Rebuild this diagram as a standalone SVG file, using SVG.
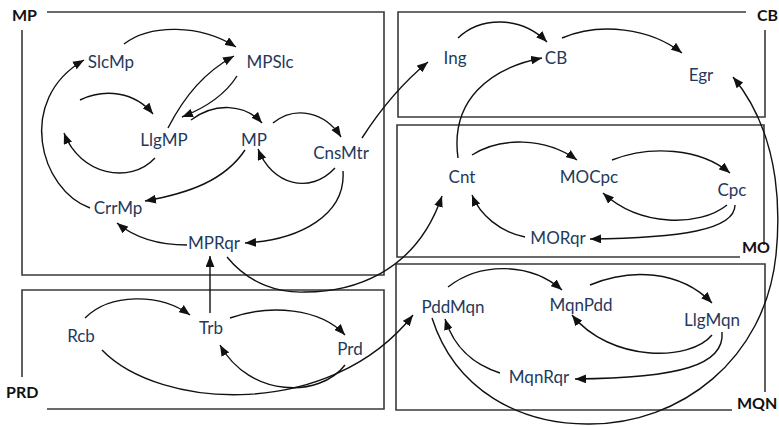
<svg xmlns="http://www.w3.org/2000/svg" width="779" height="426" viewBox="0 0 779 426">
  <style>
    .box { fill: none; stroke: #3a3a3a; stroke-width: 1.6; }
    .grp { font-family: Lato, "Open Sans", sans-serif; font-weight: bold; font-size: 16px; fill: #111; }
    .lbl { font-family: Lato, "Open Sans", sans-serif; font-size: 17px; fill: #1f3a5c; text-anchor: middle; }
    .edge { fill: none; stroke: #111; stroke-width: 1.4; marker-end: url(#ah); }
  </style>
  <defs>
    <marker id="ah" viewBox="0 0 10 8" refX="10" refY="4" markerWidth="11" markerHeight="9" markerUnits="userSpaceOnUse" orient="auto">
      <path d="M0,0 L10,4 L0,8 Z" fill="#111"/>
    </marker>
  </defs>

  <rect width="779" height="426" fill="#fff"/>

  <!-- group frames -->
  <g id="frames">
    <path class="box" d="M47 12 H384 V275 H22 V30"/>
    <path class="box" d="M22 377 V290 H384 V409 H47"/>
    <path class="box" d="M746 12 H398 V117 H765 V30"/>
    <path class="box" d="M764 245 V125 H397 V257 H740"/>
    <path class="box" d="M765 392 V264 H396 V410 H732"/>
    <text class="grp" x="12" y="21">MP</text>
    <text class="grp" x="6" y="398">PRD</text>
    <text class="grp" x="757" y="21">CB</text>
    <text class="grp" x="742" y="253">MO</text>
    <text class="grp" x="737" y="409">MQN</text>
  </g>

  <!-- connectors -->
  <g id="connectors">
    <!-- MP -->
    <path class="edge" d="M124 44 C150 24, 200 24, 236 47"/>
    <path class="edge" d="M90 208 C40 190, 15 100, 84 60"/>
    <path class="edge" d="M80 100 C105 88, 135 92, 153 114"/>
    <path class="edge" d="M155 158 C130 185, 80 175, 64 133"/>
    <path class="edge" d="M168 128 C185 95, 205 72, 234 56"/>
    <path class="edge" d="M237 76 C225 95, 205 108, 182 117"/>
    <path class="edge" d="M191 120 C215 102, 245 104, 262 123"/>
    <path class="edge" d="M273 123 C295 105, 325 112, 341 137"/>
    <path class="edge" d="M362 138 C380 110, 400 85, 428 62"/>
    <path class="edge" d="M245 150 C225 180, 190 193, 145 201"/>
    <path class="edge" d="M335 168 C310 195, 272 185, 258 149"/>
    <path class="edge" d="M343 171 C346 215, 300 240, 245 243"/>
    <path class="edge" d="M187 245 C160 245, 135 238, 117 223"/>
    <path class="edge" d="M210 313 V256"/>
    <path class="edge" d="M227 257 C250 285, 280 293, 305 292 C350 292, 415 275, 442 196"/>
    <!-- PRD -->
    <path class="edge" d="M85 318 C110 293, 160 293, 190 315"/>
    <path class="edge" d="M230 318 C270 304, 320 308, 345 335"/>
    <path class="edge" d="M345 365 C320 398, 250 398, 220 345"/>
    <path class="edge" d="M102 350 C160 410, 330 420, 413 315"/>
    <!-- CB -->
    <path class="edge" d="M458 38 C480 17, 520 15, 547 42"/>
    <path class="edge" d="M562 38 C600 22, 650 28, 682 53"/>
    <path class="edge" d="M458 158 C450 100, 490 68, 542 58"/>
    <!-- MO -->
    <path class="edge" d="M472 155 C500 137, 545 137, 577 160"/>
    <path class="edge" d="M612 160 C650 145, 700 148, 730 173"/>
    <path class="edge" d="M727 205 C700 227, 640 227, 603 193"/>
    <path class="edge" d="M735 205 C735 230, 680 238, 590 239"/>
    <path class="edge" d="M525 237 C500 232, 480 215, 472 195"/>
    <!-- MQN -->
    <path class="edge" d="M448 287 C480 262, 530 262, 562 290"/>
    <path class="edge" d="M590 285 C630 268, 680 270, 712 303"/>
    <path class="edge" d="M712 335 C690 362, 610 362, 572 315"/>
    <path class="edge" d="M722 332 C725 365, 680 378, 575 379"/>
    <path class="edge" d="M500 373 C475 365, 455 350, 445 319"/>
    <path class="edge" d="M432 318 C455 390, 520 425, 590 424 C680 424, 765 360, 776 255 C779 225, 785 140, 733 77"/>
  </g>

  <!-- nodes -->
  <g id="SlcMp"><text class="lbl" x="111" y="68">SlcMp</text></g>
  <g id="MPSlc"><text class="lbl" x="270" y="68">MPSlc</text></g>
  <g id="LlgMP"><text class="lbl" x="164" y="146">LlgMP</text></g>
  <g id="MP"><text class="lbl" x="254" y="146">MP</text></g>
  <g id="CnsMtr"><text class="lbl" x="341" y="159">CnsMtr</text></g>
  <g id="CrrMp"><text class="lbl" x="118" y="214">CrrMp</text></g>
  <g id="MPRqr"><text class="lbl" x="214" y="249">MPRqr</text></g>
  <g id="Rcb"><text class="lbl" x="81" y="342">Rcb</text></g>
  <g id="Trb"><text class="lbl" x="211" y="334">Trb</text></g>
  <g id="Prd"><text class="lbl" x="350" y="355">Prd</text></g>
  <g id="Ing"><text class="lbl" x="455" y="64">Ing</text></g>
  <g id="CB"><text class="lbl" x="556" y="64">CB</text></g>
  <g id="Egr"><text class="lbl" x="701" y="81">Egr</text></g>
  <g id="Cnt"><text class="lbl" x="462" y="183">Cnt</text></g>
  <g id="MOCpc"><text class="lbl" x="589" y="183">MOCpc</text></g>
  <g id="Cpc"><text class="lbl" x="732" y="196">Cpc</text></g>
  <g id="MORqr"><text class="lbl" x="558" y="244">MORqr</text></g>
  <g id="PddMqn"><text class="lbl" x="453" y="313">PddMqn</text></g>
  <g id="MqnPdd"><text class="lbl" x="581" y="311">MqnPdd</text></g>
  <g id="LlgMqn"><text class="lbl" x="712" y="326">LlgMqn</text></g>
  <g id="MqnRqr"><text class="lbl" x="539" y="383">MqnRqr</text></g>
</svg>
